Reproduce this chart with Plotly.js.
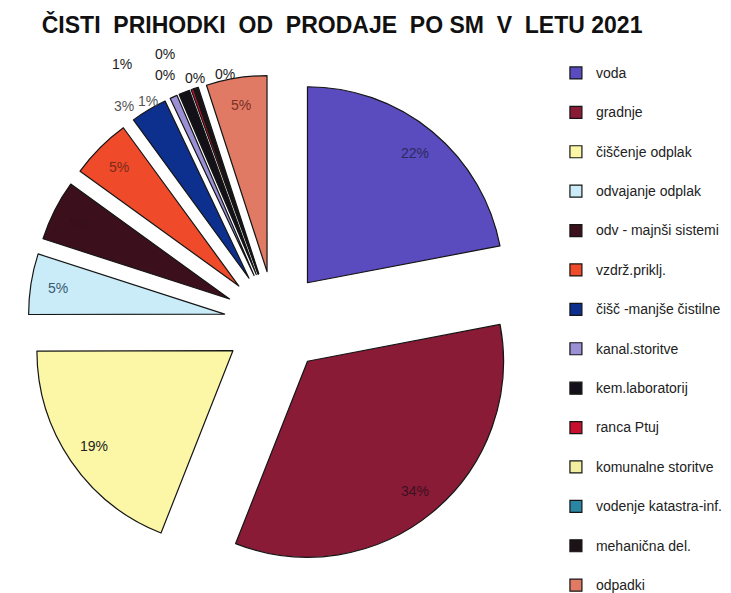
<!DOCTYPE html>
<html>
<head>
<meta charset="utf-8">
<script src="https://cdn.plot.ly/plotly-3.0.1.min.js"></script>
<style>
  html, body { margin: 0; padding: 0; background: #ffffff; }
  #chart { width: 731px; height: 593px; }
</style>
</head>
<body>
<div id="chart"></div>
<script>
// ---- data ----
const chartTitle = "ČISTI  PRIHODKI  OD  PRODAJE  PO SM  V  LETU 2021";
const categories = [
  "voda", "gradnje", "čiščenje odplak", "odvajanje odplak",
  "odv - majnši sistemi", "vzdrž.priklj.", "čišč -manjše čistilne",
  "kanal.storitve", "kem.laboratorij", "ranca Ptuj", "komunalne storitve",
  "vodenje katastra-inf.", "mehanična del.", "odpadki"
];
// share of net sales revenue, in percent (estimated from slice angles and labels)
const shares = [22, 34, 19, 5, 5, 5, 3, 0.6, 0.9, 0.2, 0.02, 0.02, 0.3, 5];

// ---- styling ----
const sliceColors = [
  "#5a4bbf", "#8a1b37", "#fbf7a6", "#c9ecf8", "#3b0f1c", "#ef4a2a", "#0d2f8e",
  "#9b90d6", "#141018", "#c8102e", "#f3efa0", "#2a86a3", "#1c1218", "#e07a64"
];
const labelColors = [
  "#2c2a5e", "#3d1020", "#222222", "#3a5a70", "#35101a", "#7a2a18", "#555555",
  "#555555", "#1a1a1a", "#1a1a1a", "#1a1a1a", "#1a1a1a", "#1a1a1a", "#7a3026"
];
const FONT = "Liberation Sans, Arial, sans-serif";
const W = 731, H = 593;

// pie geometry (pixels): centre, radius, explosion as a fraction of radius
const PIE = { cx: 275, cy: 322, r: 196, pull: 0.26 };
const half = PIE.r * (1 + PIE.pull);
const pieDomain = {
  x: [(PIE.cx - half) / W, (PIE.cx + half) / W],
  y: [1 - (PIE.cy + half) / H, 1 - (PIE.cy - half) / H]
};

// labels inside the wide slices sit at this fraction of the radius, along the mid angle
const insideLabelDepth = 0.86;
// the thin slices have their labels stacked above the pie (index -> pixel spot)
const outsideLabelSpots = {
  6: [124, 106], 7: [148, 101], 8: [122, 64],
  9: [165, 54], 10: [165, 75], 11: [195, 78], 12: [225, 74]
};

const total = shares.reduce((a, b) => a + b, 0);
const annotations = [];
let cum = 0;
shares.forEach((v, i) => {
  const mid = 2 * Math.PI * (cum + v / 2) / total;
  cum += v;
  let px, py;
  if (outsideLabelSpots[i]) {
    px = outsideLabelSpots[i][0];
    py = outsideLabelSpots[i][1];
  } else {
    const d = (PIE.pull + insideLabelDepth) * PIE.r;
    px = PIE.cx + d * Math.sin(mid);
    py = PIE.cy - d * Math.cos(mid);
  }
  annotations.push({
    text: Math.round(v / total * 100) + "%",
    xref: "paper", yref: "paper",
    x: px / W, y: 1 - py / H,
    xanchor: "center", yanchor: "middle",
    showarrow: false,
    font: { family: FONT, size: 14, color: labelColors[i] }
  });
});

const legendLabels = categories.map(c =>
  '<span style="font-size:14px;baseline-shift:6px">' + c + '</span>');

const trace = {
  type: "pie",
  labels: legendLabels,
  values: shares,
  sort: false,
  direction: "clockwise",
  rotation: 0,
  pull: PIE.pull,
  marker: { colors: sliceColors, line: { color: "#151515", width: 1.2 } },
  textinfo: "none",
  hoverinfo: "none",
  domain: pieDomain
};

const layout = {
  width: W,
  height: H,
  margin: { l: 0, r: 0, t: 0, b: 0, autoexpand: false },
  paper_bgcolor: "#ffffff",
  title: {
    text: chartTitle,
    font: { family: FONT, size: 23, weight: "bold", color: "#111111" },
    x: 0.468, xref: "container", xanchor: "center",
    y: 0.958, yref: "container", yanchor: "middle"
  },
  showlegend: true,
  legend: {
    x: 0.7605, xanchor: "left",
    y: 0.9186, yanchor: "top",
    font: { family: FONT, size: 28, color: "#222222" },
    bgcolor: "rgba(0,0,0,0)",
    traceorder: "normal"
  },
  annotations: annotations
};

Plotly.newPlot("chart", [trace], layout, { displayModeBar: false, staticPlot: true });
</script>
</body>
</html>
